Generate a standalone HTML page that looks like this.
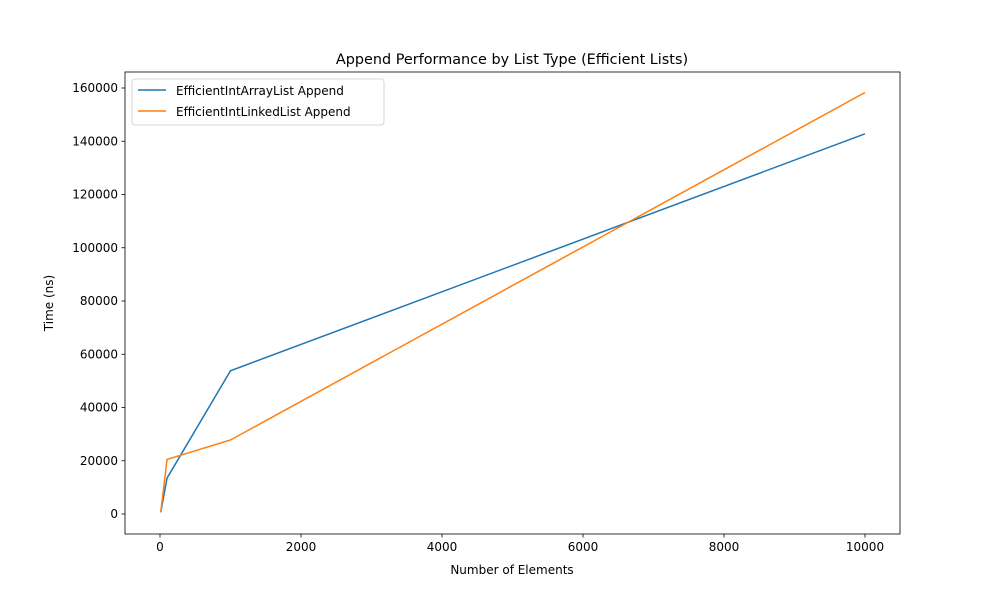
<!DOCTYPE html>
<html><head><meta charset="utf-8"><style>body{margin:0;background:#fff}svg{display:block;font-family:"DejaVu Sans","Liberation Sans",sans-serif}</style></head>
<body>
<svg id="c" width="1000" height="600"></svg>
<script>
const xValues=[10,100,1000,10000];
const arrayTimes=[600,13500,53800,142800];
const linkedTimes=[600,20500,27800,158300];
const xTicks=[0,2000,4000,6000,8000,10000];
const yTicks=[0,20000,40000,60000,80000,100000,120000,140000,160000];
const L=125,R=900,T=72,B=534;
const xs=v=>160+(v/10000)*705;
const ys=v=>514-(v/160000)*426;
const s=document.getElementById('c');const NS='http://www.w3.org/2000/svg';
function mk(t,a,txt){const e=document.createElementNS(NS,t);for(const k in a)e.setAttribute(k,a[k]);if(txt!==undefined)e.textContent=txt;s.appendChild(e);return e;}
let e=mk('rect',{x:L,y:T,width:R-L,height:B-T,fill:'none',stroke:'#000','stroke-width':0.8});

xTicks.forEach(v=>{const x=xs(v);
e=mk('line',{x1:x,x2:x,y1:B,y2:B+3.5,stroke:'#000','stroke-width':0.8});
e=mk('text',{x:x,y:B+17,'font-size':12,'text-anchor':'middle'},String(v));});
yTicks.forEach(v=>{const y=ys(v);
e=mk('line',{x1:L,x2:L-3.5,y1:y,y2:y,stroke:'#000','stroke-width':0.8});
e=mk('text',{x:L-7,y:y+4,'font-size':12,'text-anchor':'end'},String(v));});
function line(vals,col,name){const p=xValues.map((v,i)=>xs(v)+','+ys(vals[i])).join(' ');
e=mk('polyline',{points:p,fill:'none',stroke:col,'stroke-width':1.5});}
line(arrayTimes,'#1f77b4','array-list-line');
line(linkedTimes,'#ff7f0e','linked-list-line');
e=mk('text',{x:512,y:64,'font-size':14.4,'text-anchor':'middle'},'Append Performance by List Type (Efficient Lists)');
e=mk('text',{x:512,y:574,'font-size':12,'text-anchor':'middle'},'Number of Elements');
e=mk('text',{x:53,y:303,'font-size':12,'text-anchor':'middle',transform:'rotate(-90 53 303)'},'Time (ns)');
e=mk('rect',{x:132,y:79,width:252,height:46,rx:3,fill:'#fff',stroke:'#ccc','stroke-width':0.8});
[['EfficientIntArrayList Append','#1f77b4',95],['EfficientIntLinkedList Append','#ff7f0e',116]].forEach(([t,c,y])=>{
e=mk('line',{x1:138,x2:166,y1:y-5,y2:y-5,stroke:c,'stroke-width':1.5});
e=mk('text',{x:176,y:y,'font-size':12},t);});
</script>
</body></html>
